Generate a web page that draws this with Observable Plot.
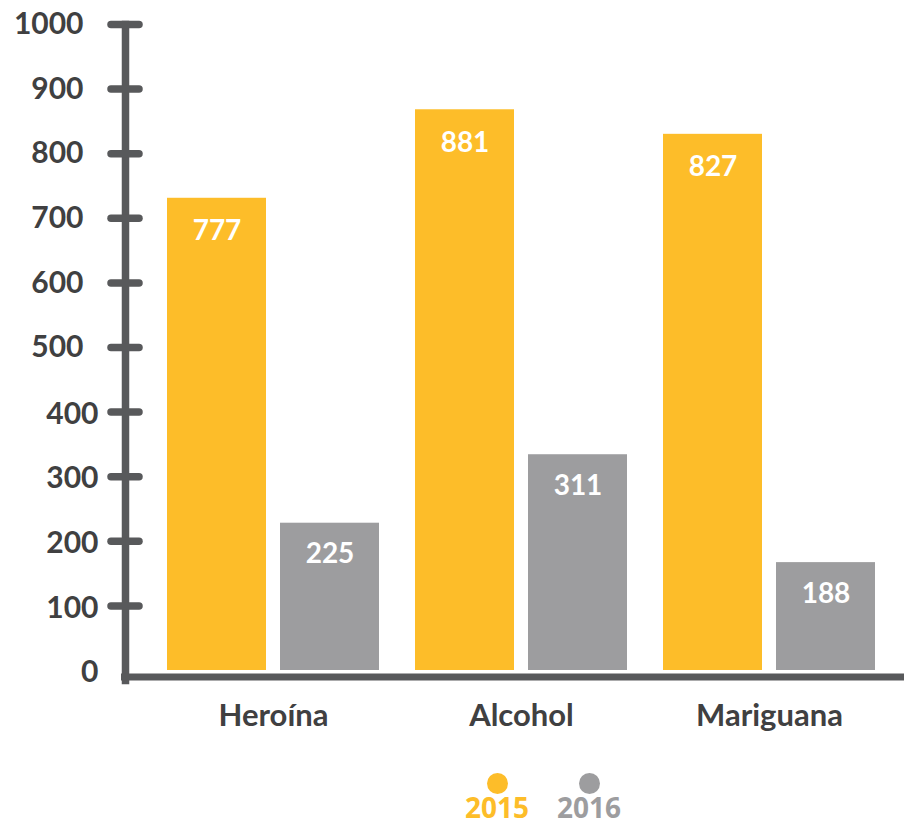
<!DOCTYPE html>
<html>
<head>
<meta charset="utf-8">
<script src="https://cdn.jsdelivr.net/npm/d3@7"></script>
<script src="https://cdn.jsdelivr.net/npm/@observablehq/plot@0.6"></script>
<style>
  html, body { margin: 0; padding: 0; background: #ffffff; }
  body { width: 904px; height: 827px; overflow: hidden; font-family: Lato, "Open Sans", sans-serif; }
  #legend { display: flex; gap: 28px; padding-left: 465px; margin-top: 28px; }
  .item { display: flex; flex-direction: column; align-items: center; }
  .dot { width: 21px; height: 21px; border-radius: 50%; }
  .lab { font-family: "Open Sans", sans-serif; font-weight: 700; font-size: 28px; line-height: 24px; margin-top: 1px; }
</style>
</head>
<body>
<div id="chart"></div>
<div id="legend"></div>
<script>
// ---- data ----
const categories = ["Heroína", "Alcohol", "Mariguana"];
const years = ["2015", "2016"];
// bar heights as drawn in the picture
const bars2015 = [731, 868, 830];
const bars2016 = [228, 334, 167];
// values printed on the bars
const labels2015 = ["777", "881", "827"];
const labels2016 = ["225", "311", "188"];
const ticksLow = [0, 100, 200, 300, 400];
const ticksHigh = [500, 600, 700, 800, 900, 1000];
const tickMarks = [100, 200, 300, 400, 500, 600, 700, 800, 900, 1000];
const yearColors = ["#FDBD29", "#9D9D9F"];

const axisColor = "#58595B";
const textColor = "#404041";

const rows2015 = categories.map((c, i) => ({category: c, value: bars2015[i], label: labels2015[i]}));
const rows2016 = categories.map((c, i) => ({category: c, value: bars2016[i], label: labels2016[i]}));

const chart = Plot.plot({
  width: 904,
  height: 745,
  marginLeft: 125,
  marginRight: 0,
  marginTop: 24,
  marginBottom: 65,
  style: {fontFamily: "Lato, sans-serif", background: "#ffffff", overflow: "visible"},
  x: {domain: categories, paddingInner: 36 / 248, paddingOuter: 0, insetLeft: 42, insetRight: 29, axis: null},
  y: {domain: [0, 1000], insetBottom: 10, axis: null},
  marks: [
    Plot.barY(rows2015, {x: "category", y: "value", fill: yearColors[0], insetRight: 113}),
    Plot.barY(rows2016, {x: "category", y: "value", fill: yearColors[1], insetLeft: 113}),
    Plot.text(rows2015, {x: "category", y: "value", text: "label", dx: -56.5, dy: 33,
      fill: "white", fontSize: 28, fontWeight: 700}),
    Plot.text(rows2016, {x: "category", y: "value", text: "label", dx: 56.5, dy: 31,
      fill: "white", fontSize: 28, fontWeight: 700}),
    Plot.frame({anchor: "left", stroke: axisColor, strokeWidth: 7.5}),
    Plot.ruleY([0], {dy: 6.5, stroke: axisColor, strokeWidth: 7, insetLeft: -4}),
    Plot.axisY(tickMarks, {tickSize: 28, dx: 14, stroke: axisColor, strokeWidth: 7.5,
      strokeLinecap: "round", fill: "none", label: null}),
    Plot.axisY(ticksLow, {tickSize: 0, tickPadding: 27, stroke: "none", fill: textColor,
      fontSize: 30, fontWeight: 700, label: null, tickFormat: d => String(d), dy: 2}),
    Plot.axisY(ticksHigh, {tickSize: 0, tickPadding: 42, stroke: "none", fill: textColor,
      fontSize: 30, fontWeight: 700, label: null, tickFormat: d => String(d)}),
    Plot.axisX({tickSize: 0, tickPadding: 23, fill: textColor, fontSize: 31, fontWeight: 700, label: null})
  ]
});
document.getElementById("chart").append(chart);

// legend
const legend = d3.select("#legend");
years.forEach((y, i) => {
  const item = legend.append("div").attr("class", "item");
  item.append("div").attr("class", "dot").style("background", yearColors[i]);
  item.append("div").attr("class", "lab").style("color", yearColors[i]).text(y);
});
</script>
</body>
</html>
